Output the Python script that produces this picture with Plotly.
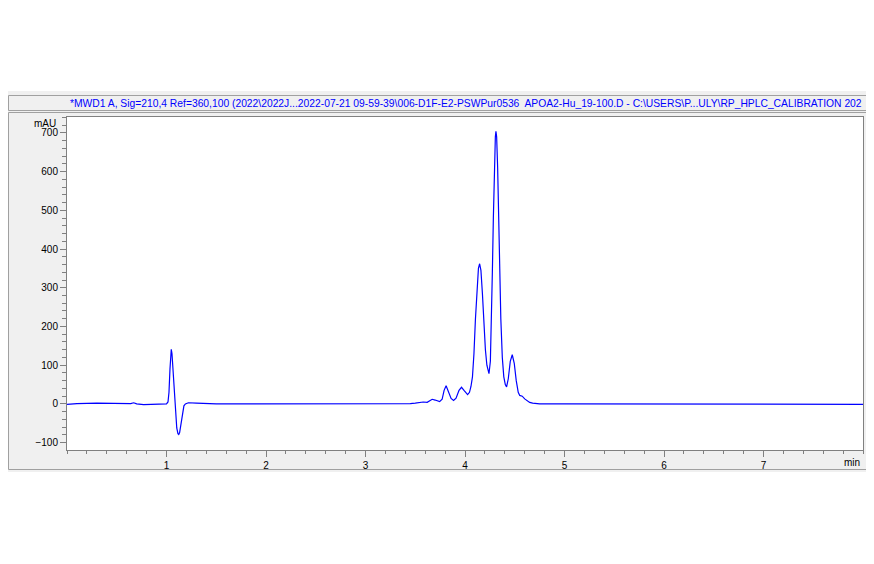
import plotly.graph_objects as go

# ---------------- data ----------------
time_min = [
    0.00, 0.10, 0.30, 0.50, 0.64, 0.67, 0.70, 0.77, 0.85, 0.95, 1.00,
    1.015, 1.025, 1.035, 1.042, 1.048, 1.055, 1.063, 1.072, 1.082,
    1.092, 1.103, 1.115, 1.123, 1.132, 1.145, 1.16, 1.175, 1.19, 1.22,
    1.30, 1.50, 1.80, 2.20, 2.60, 3.00, 3.30, 3.40, 3.45, 3.50, 3.55,
    3.58, 3.62, 3.67, 3.70, 3.745, 3.77, 3.79, 3.81, 3.83, 3.86, 3.885,
    3.91, 3.94, 3.965, 3.99, 4.015, 4.026, 4.045, 4.06, 4.075, 4.09,
    4.105, 4.12, 4.135, 4.147, 4.16, 4.175, 4.19, 4.205, 4.22, 4.232,
    4.241, 4.255, 4.265, 4.275, 4.285, 4.295, 4.305, 4.311, 4.318,
    4.328, 4.338, 4.348, 4.36, 4.375, 4.39, 4.405, 4.418, 4.435, 4.455,
    4.475, 4.495, 4.515, 4.535, 4.55, 4.575, 4.60, 4.625, 4.65, 4.68,
    4.75, 5.00, 5.50, 6.00, 6.50, 7.00, 7.50, 8.00,
]
signal_mau = [
    -1, 1, 2, 2, 1, 3, 0, -2, -1, -1, 0,
    5, 30, 90, 128, 141, 130, 95, 45, 2,
    -35, -62, -77, -79, -74, -52, -22, -5, 0, 3,
    2, 0, 0, 0, 0, 0, 0, 0, 1, 2, 4,
    5, 4, 12, 10, 6, 12, 35, 47, 35, 14, 9,
    15, 35, 43, 35, 25, 24, 30, 45, 70, 130,
    220, 300, 350, 362, 345, 285, 205, 140, 100, 82,
    78, 110, 200, 340, 480, 610, 690, 704, 690,
    610, 480, 350, 220, 120, 70, 50, 44, 65, 110,
    127, 105, 60, 30, 22, 20, 13, 8, 4, 2,
    0, 0, 0, -1, -1, -1, -1, -1,
]

x_tick_vals = [1, 2, 3, 4, 5, 6, 7]
y_tick_vals = [-100, 0, 100, 200, 300, 400, 500, 600, 700]
title_text = (r"*MWD1 A, Sig=210,4 Ref=360,100 (2022\2022J...2022-07-21 09-59-39\006-D1F-E2-PSWPur0536"
              r"  APOA2-Hu_19-100.D - C:\USERS\P...ULY\RP_HPLC_CALIBRATION 202")
y_unit = "mAU"
x_unit = "min"

# ---------------- layout helpers ----------------
OFF = 8  # the page body has an 8px margin
W, H = 874 - OFF, 564 - OFF
L, R, T, B = 67, 863, 117, 450  # plot area in page pixels


def px(x):
    return (x - L) / (R - L)


def py(y):
    return (B - y) / (B - T)


FONT = "Liberation Sans, Arial, sans-serif"
GRAY_BG = "#f0f0f0"
FRAME = "#a0a0a0"
AXIS = "#808080"

fig = go.Figure()
fig.add_trace(go.Scatter(
    x=time_min, y=signal_mau, mode="lines",
    line=dict(color="#0000ff", width=1.2),
    hoverinfo="skip", showlegend=False,
))

shapes = [
    dict(type="rect", xref="paper", yref="paper", layer="below",
         x0=px(OFF), x1=px(874), y0=py(91), y1=py(472),
         fillcolor=GRAY_BG, line=dict(width=0)),
    dict(type="rect", xref="paper", yref="paper", layer="below",
         x0=px(8.5), x1=px(866.5), y0=py(95.5), y1=py(110.5),
         fillcolor=GRAY_BG, line=dict(color=FRAME, width=1)),
    dict(type="rect", xref="paper", yref="paper", layer="below",
         x0=px(8.5), x1=px(866.5), y0=py(112.5), y1=py(469.5),
         fillcolor=GRAY_BG, line=dict(color=FRAME, width=1)),
    dict(type="rect", xref="paper", yref="paper", layer="below",
         x0=0, x1=1, y0=0, y1=1,
         fillcolor="white", line=dict(width=0)),
]

annotations = [
    dict(text=title_text, xref="paper", yref="paper",
         x=px(68), y=py(103), xanchor="left", yanchor="middle",
         showarrow=False, font=dict(family=FONT, size=10.3, color="#0000ff")),
    dict(text=y_unit, xref="paper", yref="paper",
         x=px(58), y=py(123), xanchor="right", yanchor="middle",
         showarrow=False, font=dict(family=FONT, size=10, color="black")),
    dict(text=x_unit, xref="paper", yref="paper",
         x=px(862), y=py(463), xanchor="right", yanchor="middle",
         showarrow=False, font=dict(family=FONT, size=10, color="black")),
]

fig.update_layout(
    width=W, height=H,
    margin=dict(l=L - OFF, r=874 - R, t=T - OFF, b=564 - B, pad=0),
    paper_bgcolor="white",
    plot_bgcolor="rgba(0,0,0,0)",
    shapes=shapes,
    annotations=annotations,
    font=dict(family=FONT, size=10, color="black"),
    xaxis=dict(
        range=[0, 8], tickmode="array", tickvals=x_tick_vals,
        ticks="outside", ticklen=6, tickcolor=AXIS, tickwidth=1,
        showline=True, linecolor=AXIS, linewidth=1, mirror=True,
        showgrid=False, zeroline=False,
        tickfont=dict(family=FONT, size=10, color="black"),
        minor=dict(tickmode="linear", tick0=0, dtick=0.2, ticks="outside",
                   ticklen=3, tickcolor=AXIS, showgrid=False),
    ),
    yaxis=dict(
        range=[-119, 741], tickmode="array", tickvals=y_tick_vals,
        ticks="outside", ticklen=6, tickcolor=AXIS, tickwidth=1,
        showline=True, linecolor=AXIS, linewidth=1, mirror=True,
        showgrid=False, zeroline=False,
        tickfont=dict(family=FONT, size=10, color="black"),
        minor=dict(tickmode="linear", tick0=0, dtick=20, ticks="outside",
                   ticklen=4, tickcolor=AXIS, showgrid=False),
    ),
)

fig.write_html("out.html", config={"displayModeBar": False})
